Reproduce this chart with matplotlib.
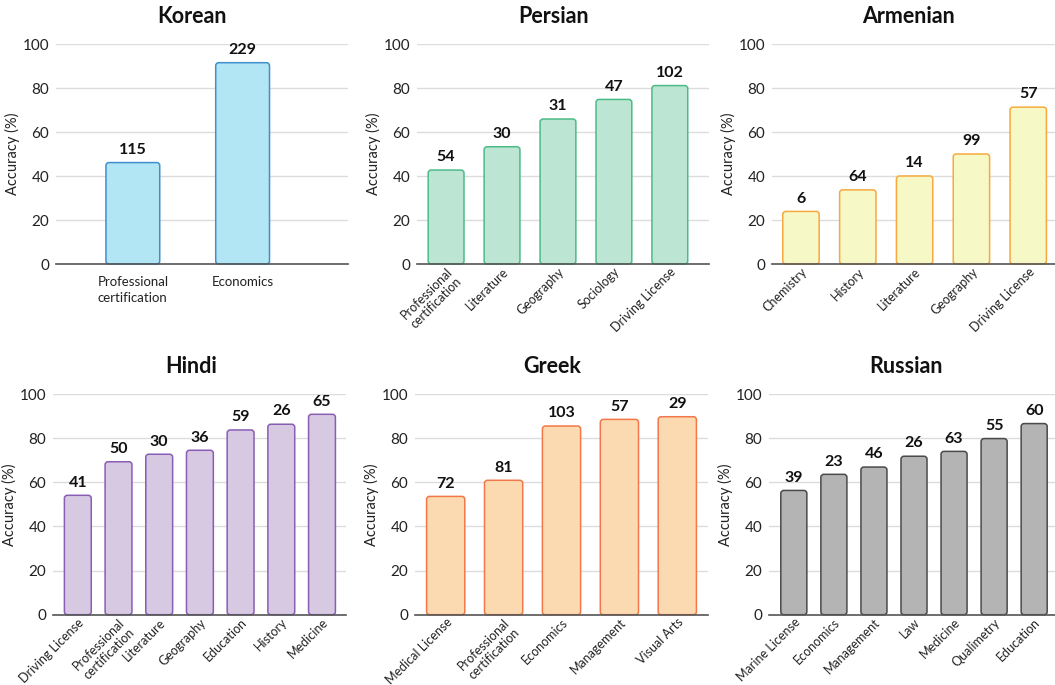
import matplotlib
matplotlib.use("Agg")
import matplotlib.pyplot as plt
from matplotlib.patches import FancyBboxPatch

plt.rcParams['font.family'] = ['Lato', 'DejaVu Sans']

# ---------------- data ----------------
korean_cats = ["Professional\ncertification", "Economics"]
korean_acc = [46.1, 91.5]
korean_n = [115, 229]

persian_cats = ["Professional\ncertification", "Literature", "Geography", "Sociology", "Driving License"]
persian_acc = [42.7, 53.3, 65.9, 74.8, 81.1]
persian_n = [54, 30, 31, 47, 102]

armenian_cats = ["Chemistry", "History", "Literature", "Geography", "Driving License"]
armenian_acc = [23.9, 33.7, 40.0, 50.0, 71.3]
armenian_n = [6, 64, 14, 99, 57]

hindi_cats = ["Driving License", "Professional\ncertification", "Literature", "Geography",
              "Education", "History", "Medicine"]
hindi_acc = [54.1, 69.3, 72.7, 74.5, 83.7, 86.3, 90.8]
hindi_n = [41, 50, 30, 36, 59, 26, 65]

greek_cats = ["Medical License", "Professional\ncertification", "Economics", "Management", "Visual Arts"]
greek_acc = [53.6, 60.9, 85.5, 88.5, 89.7]
greek_n = [72, 81, 103, 57, 29]

russian_cats = ["Marine License", "Economics", "Management", "Law", "Medicine", "Qualimetry", "Education"]
russian_acc = [56.3, 63.6, 66.9, 71.8, 74.0, 79.8, 86.6]
russian_n = [39, 23, 46, 26, 63, 55, 60]

yticks = [0, 20, 40, 60, 80, 100]

# ---------------- layout ----------------
W, H = 1055, 685
fig = plt.figure(figsize=(W / 100, H / 100), dpi=100)

def px_axes(x0, x1, ytop, ybot):
    return fig.add_axes([x0 / W, (H - ybot) / H, (x1 - x0) / W, (ybot - ytop) / H])

panels = [
    dict(title="Korean", cats=korean_cats, acc=korean_acc, n=korean_n,
         box=(56, 348, 44, 264), xlim=(-0.70, 1.96), width=0.49, rot=False,
         fc="#b3e6f4", ec="#3f8fcf", tx=192),
    dict(title="Persian", cats=persian_cats, acc=persian_acc, n=persian_n,
         box=(417, 709, 44, 264), xlim=(-0.52, 4.70), width=0.64, rot=True,
         fc="#bce6d3", ec="#4cbb88", tx=554),
    dict(title="Armenian", cats=armenian_cats, acc=armenian_acc, n=armenian_n,
         box=(772, 1068, 44, 264), xlim=(-0.51, 4.70), width=0.64, rot=True,
         fc="#f6f8c5", ec="#f6a93f", tx=908),
    dict(title="Hindi", cats=hindi_cats, acc=hindi_acc, n=hindi_n,
         box=(53, 346, 394, 614.7), xlim=(-0.61, 6.59), width=0.66, rot=True,
         fc="#d8c9e3", ec="#8a5db5", tx=191),
    dict(title="Greek", cats=greek_cats, acc=greek_acc, n=greek_n,
         box=(415, 708, 394, 614.7), xlim=(-0.53, 4.53), width=0.66, rot=True,
         fc="#fcdab1", ec="#f2784a", tx=552),
    dict(title="Russian", cats=russian_cats, acc=russian_acc, n=russian_n,
         box=(769, 1059, 394, 614.7), xlim=(-0.62, 6.62), width=0.65, rot=True,
         fc="#b4b4b4", ec="#4a4a4a", tx=906),
]

for p in panels:
    ax = px_axes(*p["box"])
    x = list(range(len(p["cats"])))
    ax.set_xlim(*p["xlim"])
    ax.set_ylim(0, 100)
    bars = ax.bar(x, p["acc"], width=p["width"], color=p["fc"], edgecolor=p["ec"])
    # replace with rounded versions
    x0, x1, yt, yb = p["box"]
    xpx = (x1 - x0) / (p["xlim"][1] - p["xlim"][0])
    ypx = (yb - yt) / 100.0
    aspect = xpx / ypx
    r = 3.0 / xpx
    for b in bars:
        bx, by, bw, bh = b.get_x(), b.get_y(), b.get_width(), b.get_height()
        b.set_visible(False)
        fb = FancyBboxPatch((bx, by), bw, bh,
                            boxstyle=f"round,pad=0,rounding_size={r}",
                            mutation_aspect=aspect,
                            facecolor=p["fc"], edgecolor=p["ec"], linewidth=1.1,
                            zorder=2, clip_on=False)
        ax.add_patch(fb)
    for xi, v, nn in zip(x, p["acc"], p["n"]):
        ax.text(xi, v + 2.6, str(nn), ha="center", va="bottom",
                fontsize=11.5, fontweight="bold", color="#111111", clip_on=False)

    ax.set_yticks(yticks)
    ax.set_yticklabels([str(t) for t in yticks], fontsize=11, color="#222222")
    ax.tick_params(axis="y", length=0, pad=5)
    ax.grid(axis="y", color="#dcdcdc", linewidth=1.0, zorder=0)
    ax.set_axisbelow(True)
    for s in ["left", "right", "top"]:
        ax.spines[s].set_visible(False)
    ax.spines["bottom"].set_color("#555555")
    ax.spines["bottom"].set_linewidth(1.2)
    ax.spines["bottom"].set_zorder(3)
    ax.set_xticks(x)
    if p["rot"]:
        ax.set_xticklabels(p["cats"], rotation=45, ha="right", rotation_mode="anchor",
                           fontsize=9, color="#222222", linespacing=1.15)
        ax.tick_params(axis="x", length=0, pad=1)
    else:
        ax.set_xticklabels(p["cats"], fontsize=9.5, color="#222222", linespacing=1.35)
        ax.tick_params(axis="x", length=0, pad=9)
    ax.set_ylabel("Accuracy (%)", fontsize=10.5, color="#222222", labelpad=2)
    tx_frac = (p["tx"] - x0) / (x1 - x0)
    ax.set_title(p["title"], fontsize=15.5, fontweight="bold", pad=15, color="#111111",
                 x=tx_frac)

fig.savefig("out.png", dpi=100)
